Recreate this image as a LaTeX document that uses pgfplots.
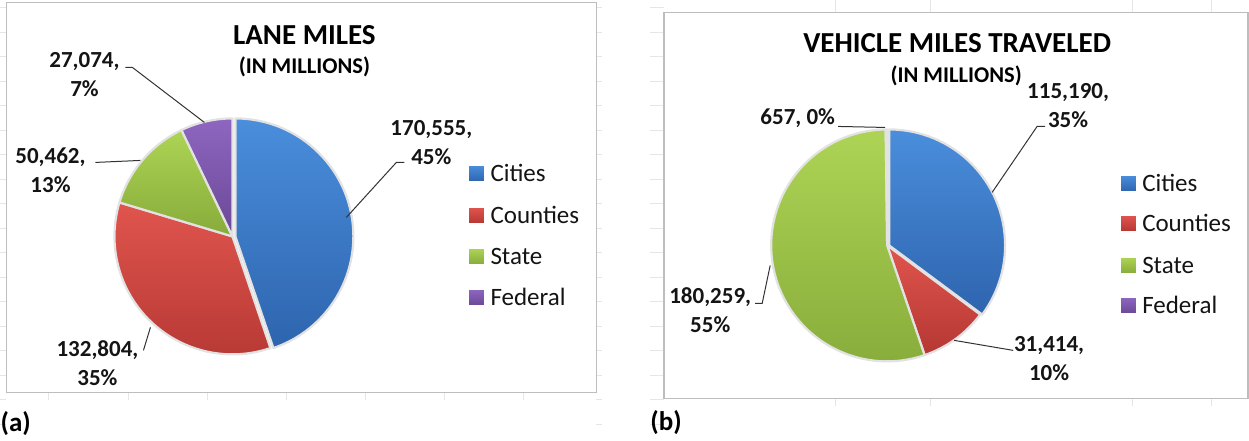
\documentclass[border=0pt]{standalone}
\usepackage{fontspec}
\setmainfont{Carlito}
\usepackage{pgfplots}
\usepackage{pgfplotstable}
\pgfplotsset{compat=1.18}

\pgfplotstableread{
name value
Cities 170555
Counties 132804
State 50462
Federal 27074
}\lanetable
\pgfplotstableread{
name value
Cities 115190
Counties 31414
State 180259
Federal 657
}\vmttable

\definecolor{blueT}{HTML}{4A8EDC}
\definecolor{blueB}{HTML}{2E64AE}
\definecolor{redT}{HTML}{E0554E}
\definecolor{redB}{HTML}{B53733}
\definecolor{greenT}{HTML}{ADD455}
\definecolor{greenB}{HTML}{87AB3A}
\definecolor{purpT}{HTML}{8E66C0}
\definecolor{purpB}{HTML}{6A4896}
\definecolor{boxgray}{HTML}{BDBDBD}
\definecolor{gridgray}{HTML}{E6E6E6}
\definecolor{sepgray}{HTML}{E2E2E2}
\definecolor{txt}{HTML}{141414}

% start/end angles (clockwise from 12 o'clock) computed from the table values
\newcommand\pieangles[2]{%
  \pgfplotstablegetelem{0}{value}\of#1\edef\pa{\pgfplotsretval}%
  \pgfplotstablegetelem{1}{value}\of#1\edef\pb{\pgfplotsretval}%
  \pgfplotstablegetelem{2}{value}\of#1\edef\pc{\pgfplotsretval}%
  \pgfplotstablegetelem{3}{value}\of#1\edef\pd{\pgfplotsretval}%
  \edef\ptot{\fpeval{\pa+\pb+\pc+\pd}}%
  \expandafter\xdef\csname #2A\endcsname{\fpeval{round(90-360*(\pa)/\ptot,3)}}%
  \expandafter\xdef\csname #2B\endcsname{\fpeval{round(90-360*(\pa+\pb)/\ptot,3)}}%
  \expandafter\xdef\csname #2C\endcsname{\fpeval{round(90-360*(\pa+\pb+\pc)/\ptot,3)}}%
}
\pieangles{\lanetable}{lane}
\pieangles{\vmttable}{vmt}

% cx, cy, r, start, end, top colour, bottom colour
\newcommand\pieslice[7]{%
  \path[top color=#6, bottom color=#7, draw=sepgray, line width=2.2pt, line join=round]
    (axis cs:#1,#2) -- ++(#4:#3pt) arc[start angle=#4, end angle=#5, radius=#3pt] -- cycle;
}
\newcommand\legentry[5]{%
  \path[top color=#3, bottom color=#4, draw=white, line width=0.6pt]
    (axis cs:#1,#2-8) rectangle (axis cs:#1+16,#2+8);
  \node[anchor=west, inner sep=0pt, text=txt, font=\fontsize{25}{30}\selectfont]
    at (axis cs:#1+22,#2) {#5};
}
\tikzset{lead/.style={draw=black!80, line width=1pt},
  dlab/.style={align=center, inner sep=0pt, text=txt,
    font=\fontsize{23}{29}\selectfont\bfseries}}

\begin{document}
\begin{tikzpicture}
\begin{axis}[x=1pt, y=1pt, xmin=0, xmax=1249, ymin=0, ymax=440,
  hide axis, scale only axis, clip=false]
\path (axis cs:0,0) rectangle (axis cs:1249,440);

% faint spreadsheet gridlines
\pgfplotsinvokeforeach{16,40.5,65,89.5,114,138.5,163,187.5,212,236.5,261,285.5,310,334.5,359,383.5,408,432.5}{
  \draw[gridgray, line width=1pt] (axis cs:0,#1) -- (axis cs:6,#1);
  \draw[gridgray, line width=1pt] (axis cs:596,#1) -- (axis cs:602,#1);
  \draw[gridgray, line width=1pt] (axis cs:650,#1) -- (axis cs:664,#1);
}
\pgfplotsinvokeforeach{48,128,207,286,365,444,523}{
  \draw[gridgray, line width=1pt] (axis cs:#1,40) -- (axis cs:#1,48);
}
\pgfplotsinvokeforeach{835,930,1132,1211}{
  \draw[gridgray, line width=1pt] (axis cs:#1,34) -- (axis cs:#1,42);
  \draw[gridgray, line width=1pt] (axis cs:#1,428) -- (axis cs:#1,440);
}

% ---------- (a) LANE MILES ----------
\draw[boxgray, line width=1.5pt] (axis cs:6,48) rectangle (axis cs:596,438);
\node[font=\fontsize{29}{34}\selectfont\bfseries, text=black] at (axis cs:304,405) {LANE MILES};
\node[font=\fontsize{22.5}{27}\selectfont\bfseries, text=black] at (axis cs:304,374) {(IN MILLIONS)};

\pieslice{235}{204}{118}{90}{\laneA}{blueT}{blueB}
\pieslice{232}{204}{118}{\laneA}{\laneB}{redT}{redB}
\pieslice{232}{204}{118}{\laneB}{\laneC}{greenT}{greenB}
\pieslice{232}{204}{118}{\laneC}{-270}{purpT}{purpB}

\node[dlab] at (axis cs:431,297.5) {170,555,\\45\%};
\draw[lead] (axis cs:346,223) -- (axis cs:396,278) -- (axis cs:404,278);
\node[dlab] at (axis cs:84,365.5) {27,074,\\7\%};
\draw[lead] (axis cs:125,373) -- (axis cs:132,373) -- (axis cs:204,318);
\node[dlab] at (axis cs:50,270) {50,462,\\13\%};
\draw[lead] (axis cs:95,278) -- (axis cs:140,280);
\node[dlab] at (axis cs:97,77) {132,804,\\35\%};
\draw[lead] (axis cs:143,90) -- (axis cs:150,113);

\legentry{468}{267}{blueT}{blueB}{Cities}
\legentry{468}{225}{redT}{redB}{Counties}
\legentry{468}{184}{greenT}{greenB}{State}
\legentry{468}{143}{purpT}{purpB}{Federal}

\node[anchor=west, inner sep=0pt, font=\fontsize{27}{32}\selectfont\bfseries] at (axis cs:0,17) {(a)};

% ---------- (b) VEHICLE MILES TRAVELED ----------
\draw[boxgray, line width=1.5pt] (axis cs:664,42) rectangle (axis cs:1248,428);
\node[font=\fontsize{29}{34}\selectfont\bfseries, text=black] at (axis cs:957,397) {VEHICLE MILES TRAVELED};
\node[font=\fontsize{22.5}{27}\selectfont\bfseries, text=black] at (axis cs:956,365) {(IN MILLIONS)};

\pieslice{889}{195}{116}{90}{\vmtA}{blueT}{blueB}
\pieslice{887}{195}{116}{\vmtA}{\vmtB}{redT}{redB}
\pieslice{887}{195}{116}{\vmtB}{\vmtC}{greenT}{greenB}
\pieslice{887}{195}{116}{\vmtC}{-270}{purpT}{purpB}

\node[dlab] at (axis cs:1068,335) {115,190,\\35\%};
\draw[lead] (axis cs:992,248) -- (axis cs:1037,314) -- (axis cs:1045,314);
\node[dlab, anchor=east] at (axis cs:835,322) {657, 0\%};
\draw[lead] (axis cs:838,314) -- (axis cs:885,313);
\node[dlab] at (axis cs:710,130) {180,259,\\55\%};
\draw[lead] (axis cs:755,137) -- (axis cs:762,137) -- (axis cs:770,175);
\node[dlab] at (axis cs:1049,81.5) {31,414,\\10\%};
\draw[lead] (axis cs:954,100) -- (axis cs:1013,90);

\legentry{1120}{257}{blueT}{blueB}{Cities}
\legentry{1120}{217}{redT}{redB}{Counties}
\legentry{1120}{175}{greenT}{greenB}{State}
\legentry{1120}{135}{purpT}{purpB}{Federal}

\node[anchor=west, inner sep=0pt, font=\fontsize{27}{32}\selectfont\bfseries] at (axis cs:650,18) {(b)};
\end{axis}
\end{tikzpicture}
\end{document}
